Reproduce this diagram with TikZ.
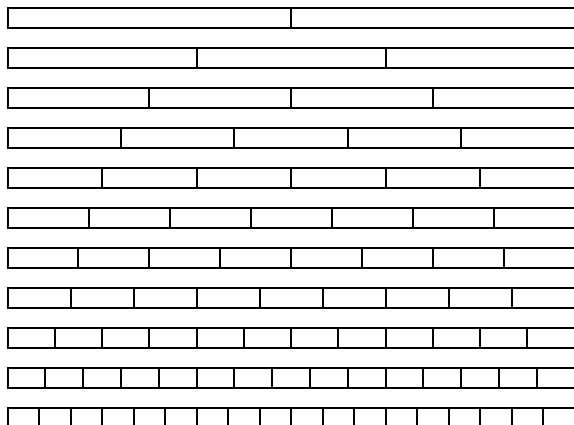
\documentclass[tikz,border=0pt]{standalone}
\begin{document}
\begin{tikzpicture}[x=1pt,y=-1pt,bar/.style={draw=black,line width=2pt}]
\useasboundingbox (0,0) rectangle (574,425);
\clip (0,0) rectangle (574,425);
\foreach \n [count=\k from 0] in {2,3,4,5,6,7,8,9,12,15,18} {
  \pgfmathsetmacro{\yt}{8+40*\k}
  \draw[bar] (7.5,\yt) rectangle (574.5,\yt+20);
  \pgfmathtruncatemacro{\m}{\n-1}
  \foreach \i in {1,...,\m} {
    \draw[bar] ({7.5+567*\i/\n},\yt) -- ({7.5+567*\i/\n},\yt+20);
  }
}
\end{tikzpicture}
\end{document}
